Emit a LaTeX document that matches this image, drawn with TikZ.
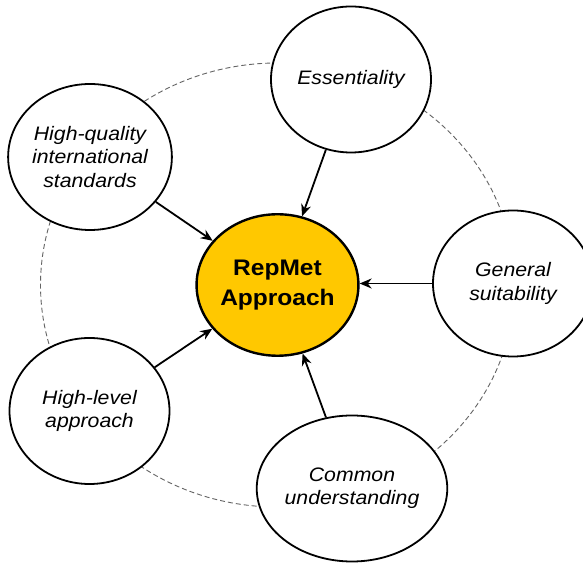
\documentclass[tikz,border=0pt]{standalone}
\usepackage{fontspec}
\setmainfont{Liberation Sans}[FakeStretch=1.09]
\usetikzlibrary{shapes.geometric,arrows.meta}
\definecolor{gold}{RGB}{255,200,0}
\definecolor{dashgray}{RGB}{100,100,100}
\tikzset{
  outer/.style={ellipse,draw=black,line width=1.8pt,fill=white,inner sep=0pt,
    minimum width=160pt,minimum height=146pt,align=center,
    font=\fontsize{19.5}{23.3}\selectfont\itshape},
  core/.style={ellipse,draw=black,line width=2.4pt,fill=gold,inner sep=0pt,
    minimum width=157.5pt,minimum height=141.5pt,align=center,
    font=\fontsize{22.5}{30}\selectfont\bfseries},
  link/.style={line width=1.8pt,-{Stealth[length=12pt,width=10pt]}},
  ring/.style={draw=dashgray,line width=0.9pt,dash pattern=on 5pt off 3pt}
}
\begin{document}
\begin{tikzpicture}[x=1pt,y=1pt]
\useasboundingbox (0,0) rectangle (583,564);
\clip (0,0) rectangle (583,564);
\fill[white] (0,0) rectangle (583,564);
\coordinate (mid) at (277.5,279);
\draw[ring] (mid) ellipse [x radius=237, y radius=222];
\node[core] (c) at (mid) {RepMet\\Approach};
\node[outer] (ess) at (351,484.5) {Essentiality};
\node[outer] (hq) at (90,407) {High-quality\\international\\standards};
\node[outer] (gs) at (513,280.5) {General\\suitability};
\node[outer] (hl) at (89.5,153) {High-level\\approach};
\node[outer] (cu) at (352,75.5) {Common\\understanding};
\draw[link] (ess) -- (c);
\draw[link] (hq) -- (c);
\draw[link] (gs.west) -- (c.east |- gs.west);
\draw[link] (hl) -- (c);
\draw[link] (cu) -- (c);
\end{tikzpicture}
\end{document}
